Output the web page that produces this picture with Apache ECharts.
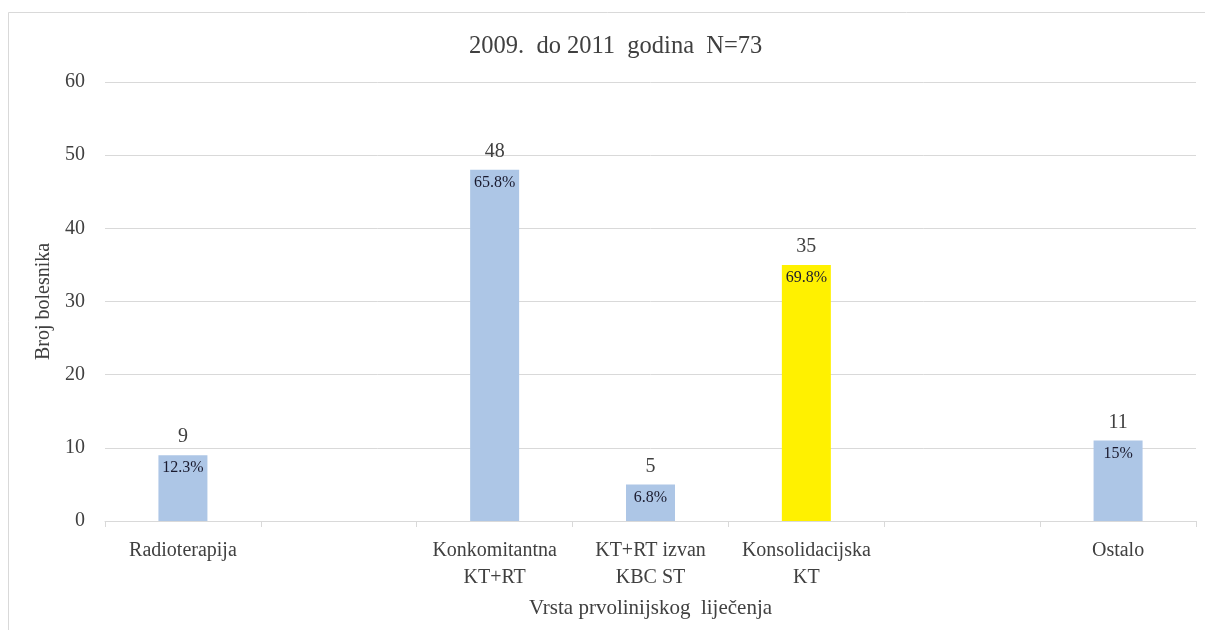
<!DOCTYPE html>
<html>
<head>
<meta charset="utf-8">
<script src="https://cdn.jsdelivr.net/npm/echarts@6/dist/echarts.min.js"></script>
<style>
html,body{margin:0;padding:0;background:#fff;}
#chart{width:1205px;height:630px;}
</style>
</head>
<body>
<div id="chart"></div>
<script>
var titleText = '2009.  do 2011  godina  N=73';
var categories = ['Radioterapija', '', 'Konkomitantna\nKT+RT', 'KT+RT izvan\nKBC ST', 'Konsolidacijska\nKT', '', 'Ostalo'];
var counts = [9, null, 48, 5, 35, null, 11];
var percentLabels = ['12.3%', '', '65.8%', '6.8%', '69.8%', '', '15%'];
var barColors = ['#ADC6E6', '#ADC6E6', '#ADC6E6', '#ADC6E6', '#FFF100', '#ADC6E6', '#ADC6E6'];
var yTicks = [0, 10, 20, 30, 40, 50, 60];
var yAxisName = 'Broj bolesnika';
var xAxisName = 'Vrsta prvolinijskog  liječenja';

var FONT = '"Liberation Serif", "Times New Roman", serif';
var chart = echarts.init(document.getElementById('chart'));
chart.setOption({
  backgroundColor: '#fff',
  animation: false,
  title: {
    text: titleText,
    left: 464,
    top: 29,
    textStyle: {fontFamily: FONT, fontSize: 24.5, fontWeight: 'normal', color: '#404040'}
  },
  graphic: [{
    type: 'polyline',
    shape: {points: [[8.5, 640], [8.5, 12.5], [1210, 12.5]]},
    style: {stroke: '#d9d9d9', lineWidth: 1, fill: null},
    silent: true
  }],
  grid: {left: 105, right: 9, top: 82, bottom: 109, containLabel: false},
  xAxis: {
    type: 'category',
    data: categories,
    name: xAxisName,
    nameLocation: 'middle',
    nameGap: 77,
    nameTextStyle: {fontFamily: FONT, fontSize: 21, color: '#404040'},
    axisLine: {lineStyle: {color: '#d9d9d9', width: 1}},
    axisTick: {show: true, length: 6, lineStyle: {color: '#d9d9d9'}},
    axisLabel: {fontFamily: FONT, fontSize: 20, color: '#404040', margin: 16, lineHeight: 27, interval: 0}
  },
  yAxis: {
    type: 'value',
    min: yTicks[0],
    max: yTicks[yTicks.length - 1],
    interval: 10,
    name: yAxisName,
    nameLocation: 'middle',
    nameGap: 50,
    nameRotate: 90,
    nameTextStyle: {fontFamily: FONT, fontSize: 20, color: '#404040'},
    axisLine: {show: false},
    axisTick: {show: false},
    splitLine: {lineStyle: {color: '#d9d9d9', width: 1}},
    axisLabel: {fontFamily: FONT, fontSize: 20, color: '#404040', margin: 20}
  },
  series: [{
    type: 'bar',
    data: counts.map(function (v, i) { return {value: v, itemStyle: {color: barColors[i]}}; }),
    barWidth: 49,
    label: {
      show: true,
      position: 'top',
      distance: 8,
      fontFamily: FONT,
      fontSize: 20,
      color: '#404040',
      formatter: function (p) { return p.value == null ? '' : String(p.value); }
    }
  }, {
    type: 'bar',
    data: counts,
    barWidth: 49,
    barGap: '-100%',
    itemStyle: {color: 'rgba(0,0,0,0)'},
    label: {
      show: true,
      position: 'insideTop',
      distance: 5,
      fontFamily: FONT,
      fontSize: 16,
      color: '#1a1a2e',
      formatter: function (p) { return percentLabels[p.dataIndex]; }
    },
    z: 3
  }]
});
</script>
</body>
</html>
